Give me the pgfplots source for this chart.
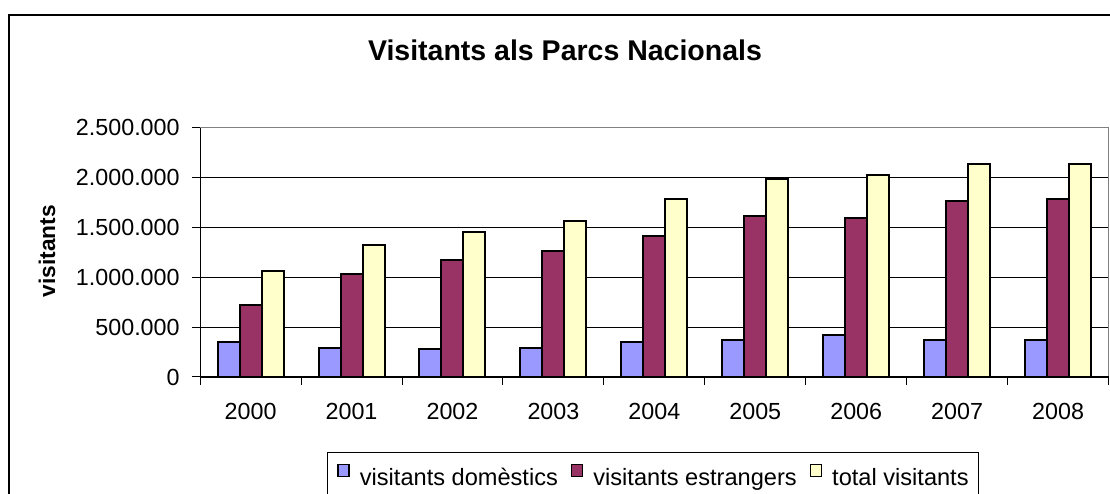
\documentclass[border=0pt]{standalone}
\usepackage{fontspec}
\setmainfont{Liberation Sans}
\usepackage{pgfplots}
\pgfplotsset{compat=1.18}
\definecolor{dom}{HTML}{9999FF}
\definecolor{est}{HTML}{993366}
\definecolor{tot}{HTML}{FFFFCC}
\pgfplotsset{sqleg/.style={legend image code/.code={%
  \draw[fill=#1,draw=black,line width=1.5pt] (0pt,1pt) rectangle (11pt,13pt);}}}
\begin{document}
\begin{tikzpicture}[x=1pt,y=1pt]
\useasboundingbox (0,0) rectangle (1110,493);
\clip (0,0) rectangle (1110,493);
\fill[white] (0,0) rectangle (1110,493);
\draw[line width=1.6pt] (9,-20) -- (9,478) -- (1130,478);
\begin{axis}[
  at={(198.3,116.3)}, anchor=south west,
  scale only axis, width=908.4pt, height=249.4pt,
  xmin=-0.5, xmax=8.5, ymin=0, ymax=2500000,
  xtick={0,...,8},
  xticklabels={2000,2001,2002,2003,2004,2005,2006,2007,2008},
  minor xtick={-0.5,0.5,...,8.5},
  ytick={0,500000,1000000,1500000,2000000,2500000},
  tick align=outside, xtick pos=lower, ytick pos=left,
  major tick length=8pt, minor tick length=8pt,
  major x tick style={draw=none},
  tick style={black, line width=1pt},
  ymajorgrids, grid style={black, line width=1pt},
  axis line style={draw=gray, line width=1pt},
  scaled y ticks=false,
  /pgf/number format/.cd, fixed, 1000 sep={.}, assume math mode=true, /pgfplots/.cd,
  ticklabel style={font=\fontsize{23.3}{28}\selectfont},
  xticklabel style={yshift=-15pt},
  yticklabel style={xshift=-9pt},
  legend columns=3,
  legend style={at={(0.1395,-0.3019)}, anchor=north west, draw=black, line width=1pt,
    font=\fontsize{23.6}{28}\selectfont, inner xsep=10pt, inner ysep=11pt,
    nodes={inner sep=0pt},
    /tikz/every odd column/.append style={column sep=10pt},
    /tikz/every even column/.append style={column sep=13pt}},
  after end axis/.code={\draw[black,line width=1.3pt] (rel axis cs:0,1) -- (rel axis cs:0,0) -- (rel axis cs:1,0);},
]
\addplot[ybar, bar width=22pt, bar shift=-22pt, fill=dom, draw=black, line width=2pt, forget plot] coordinates {(0,351000) (1,295000) (2,278000) (3,295000) (4,351000) (5,368000) (6,425000) (7,368000) (8,368000)};
\addplot[ybar, bar width=22pt, bar shift=0pt, fill=est, draw=black, line width=2pt, forget plot] coordinates {(0,719000) (1,1029000) (2,1177000) (3,1267000) (4,1413000) (5,1614000) (6,1598000) (7,1764000) (8,1781000)};
\addplot[ybar, bar width=22pt, bar shift=22pt, fill=tot, draw=black, line width=2pt, forget plot] coordinates {(0,1063000) (1,1323000) (2,1450000) (3,1564000) (4,1781000) (5,1982000) (6,2022000) (7,2132000) (8,2132000)};
\addlegendimage{sqleg=dom}
\addlegendentry{visitants domèstics}
\addlegendimage{sqleg=est}
\addlegendentry{visitants estrangers}
\addlegendimage{sqleg=tot}
\addlegendentry{total visitants}
\end{axis}
\node[font=\bfseries\fontsize{28.5}{32}\selectfont] at (565,443) {Visitants als Parcs Nacionals};
\node[rotate=90, font=\bfseries\fontsize{22.7}{27}\selectfont] at (47,242) {visitants};
\end{tikzpicture}
\end{document}
